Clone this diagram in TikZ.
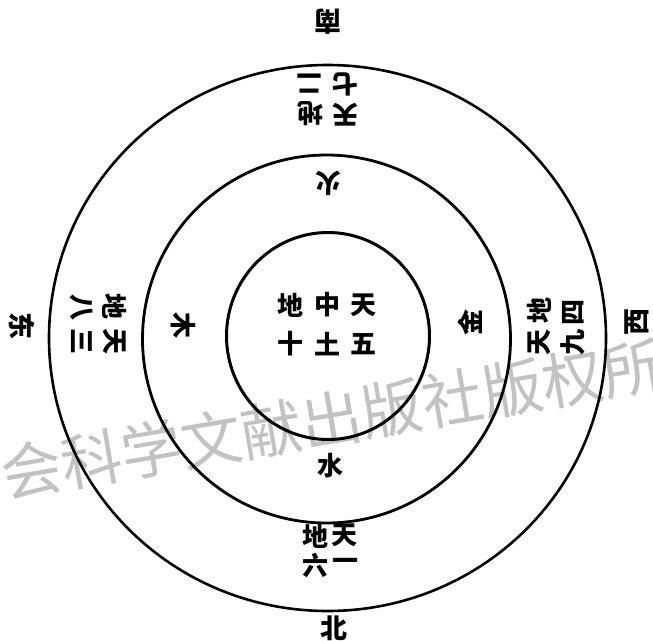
\documentclass[tikz,border=0pt]{standalone}
\usepackage{fontspec}
\newfontfamily\cjk{Noto Sans CJK SC}
\begin{document}
\begin{tikzpicture}[x=1pt,y=-1pt,
  ring/.style={draw=black,line width=2.8pt},
  ch/.style={font=\cjk\bfseries\fontsize{26}{26}\selectfont,inner sep=0pt,text=black},
  dirc/.style={font=\cjk\bfseries\fontsize{27}{27}\selectfont,inner sep=0pt,text=black},
  wm/.style={font=\cjk\fontsize{61}{61}\selectfont,inner sep=0pt,text=black!24}]
\useasboundingbox (0,0) rectangle (653,640);
\clip (0,0) rectangle (653,640);
% watermark
\node[wm,rotate=9.6] (wmark) at (332,419) {会科学文献出版社版权所};
% rings
\draw[ring,line width=2.6pt] (327.5,338) ellipse [x radius=278.5,y radius=273];
\draw[ring] (326.5,339) ellipse [x radius=184,y radius=184];
\draw[ring,line width=3pt] (328,336) ellipse [x radius=101.5,y radius=103.5];
% south (top)
\node[dirc,rotate=180] (nan) at (328,22) {南};
\node[ch,rotate=180] (t2) at (309,84) {二};
\node[ch,rotate=180] (t7) at (345,84) {七};
\node[ch,rotate=180] (tdi) at (310,114) {地};
\node[ch,rotate=180] (ttian) at (345,115) {天};
\node[ch,rotate=180] (huo) at (328,183) {火};
% centre
\node[ch] (cdi) at (290,305) {地};
\node[ch] (czhong) at (327,305) {中};
\node[ch] (ctian) at (363,305) {天};
\node[ch] (cshi) at (290,344) {十};
\node[ch] (ctu) at (327,344) {土};
\node[ch] (cwu) at (363,344) {五};
% east (left)
\node[dirc,rotate=-90] (dong) at (22,326) {东};
\node[ch,rotate=-90] (l8) at (82,307) {八};
\node[ch,rotate=-90] (l3) at (82,341) {三};
\node[ch,rotate=-90] (ldi) at (115,306) {地};
\node[ch,rotate=-90] (ltian) at (115,341) {天};
\node[ch,rotate=-90] (mu) at (183,325) {木};
% west (right)
\node[ch,rotate=90] (jin) at (470,322) {金};
\node[ch,rotate=90] (rdi) at (539,310) {地};
\node[ch,rotate=90] (rtian) at (539,342) {天};
\node[ch,rotate=90] (r4) at (573,312) {四};
\node[ch,rotate=90] (r9) at (573,342) {九};
\node[dirc,rotate=90] (xi) at (637,322) {西};
% north (bottom)
\node[ch] (shui) at (330,466) {水};
\node[ch] (bdi) at (315,536) {地};
\node[ch] (btian) at (344,535) {天};
\node[ch] (b6) at (315,565) {六};
\node[ch] (b1) at (345,564) {一};
\node[dirc] (bei) at (334,628) {北};
\end{tikzpicture}
\end{document}
